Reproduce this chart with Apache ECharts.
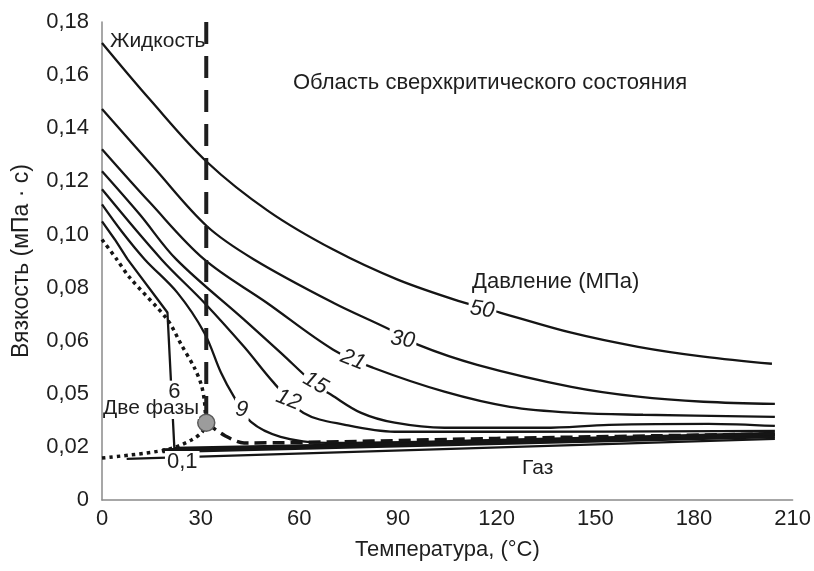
<!DOCTYPE html>
<html><head><meta charset="utf-8">
<script src="https://cdn.jsdelivr.net/npm/echarts@6/dist/echarts.min.js"></script>
<style>html,body{margin:0;padding:0;background:#fff}#c{width:814px;height:571px}</style>
</head><body><div id="c"></div>
<script>
// Tick labels (original chart prints "0,05" at the 0,04 position)
const yTickLabels = ['0','0,02','0,05','0,06','0,08','0,10','0,12','0,14','0,16','0,18'];
const xTickValues = [0,30,60,90,120,150,180,210];

// Isobars [T °C, viscosity mPa·s]
const p50 = [[0,0.1721],[14.5,0.1509],[32,0.1272],[50.7,0.1087],[70.3,0.0943],[89.9,0.083],[110.1,0.0743],[121,0.0706],[142.7,0.063],[163,0.0577],[182.9,0.054],[203.7,0.0513]];
const p30 = [[0,0.1472],[15.7,0.1253],[32,0.103],[46.2,0.0906],[70.3,0.0743],[87.5,0.0642],[96,0.0585],[114.1,0.0509],[142.7,0.0426],[163,0.0389],[182.9,0.037],[204.6,0.0362]];
const p21 = [[0,0.1321],[14.5,0.1121],[31.1,0.0906],[50.1,0.0743],[70.3,0.0566],[82.4,0.0498],[104.1,0.0408],[124,0.0351],[144.2,0.0328],[164.5,0.0321],[204.6,0.0313]];
const p15 = [[0,0.1238],[11.5,0.1075],[22.6,0.0906],[43.2,0.0679],[54.3,0.0555],[64.9,0.0434],[69.7,0.0396],[78.8,0.0328],[89,0.0291],[104.1,0.0272],[134.3,0.0272],[154.2,0.0283],[184.4,0.0287],[204.6,0.0279]];
const p12 = [[0,0.117],[18.1,0.0906],[31.1,0.0743],[43.2,0.0577],[52.2,0.0442],[61.3,0.0328],[73.9,0.0283],[89,0.0257],[120,0.0257],[204.6,0.026]];
const p9  = [[0,0.1113],[6,0.1011],[13,0.0906],[22.9,0.0781],[31.1,0.063],[36.2,0.0479],[40.1,0.0389],[45.3,0.0294],[54.3,0.0238],[68.2,0.0215],[120,0.0226],[204.6,0.0253]];
const p6  = [[0,0.1049],[3.9,0.0981],[7.8,0.0906],[19.9,0.0706],[22,0.0196],[100,0.0215],[204.6,0.0245]];
const gasBand = [[18.4,0.0185],[204.6,0.0242]];
const p01 = [[7.5,0.0155],[204.6,0.023]];
const criticalIsobar = [[31.7,0.0291],[37.4,0.0242],[43.2,0.0215],[120,0.0232],[204.6,0.0249]];
const criticalIsotherm = [[31.7,0.18],[31.7,0.0291]];
const liquidSat = [[0,0.0981],[4.5,0.0906],[8.4,0.0838],[19.9,0.0679],[24.1,0.0585],[28.1,0.0498],[30.2,0.0434],[31.1,0.0377],[31.4,0.0332],[31.7,0.0291]];
const vaporSat = [[0,0.0158],[19.6,0.0189],[27.2,0.0226],[30.5,0.0257],[31.7,0.0291]];
const criticalPoint = [[31.7,0.0291]];

// Pressure labels on curves [T, V, text]
const curveLabels = [[115.6,0.0717,'50'],[91.4,0.0604,'30'],[76.3,0.0528,'21'],[64.9,0.0440,'15'],[56.7,0.0377,'12'],[42.5,0.034,'9'],[22,0.0408,'6'],[24.4,0.0143,'0,1']];
const labelRotate = {'50':-8,'30':-8,'21':-22,'15':-30,'12':-22,'9':-8,'6':0,'0,1':0};
const labelItalic = {'50':true,'30':true,'21':true,'15':true,'12':true,'9':true,'6':false,'0,1':false};

const FONT = '"Liberation Sans", Arial, sans-serif';
const INK = '#151515';
const TXT = '#1e1e1e';
const chart = echarts.init(document.getElementById('c'), null, {renderer:'canvas'});

function line(data, opts) {
  return Object.assign({
    type:'line', data, symbol:'none', smooth:0.35, silent:true,
    lineStyle:{color:INK, width:2.3}, z:3
  }, opts || {});
}

chart.setOption({
  animation:false,
  backgroundColor:'#fff',
  grid:{left:102, right:16, top:22, bottom:71},
  xAxis:{
    type:'value', min:0, max:210, interval:30,
    name:'Температура, (°C)', nameLocation:'middle', nameGap:39,
    nameTextStyle:{fontFamily:FONT, fontSize:22, color:TXT},
    axisLine:{show:true, lineStyle:{color:'#8a8a8a', width:1.5}},
    axisTick:{show:false}, splitLine:{show:false},
    axisLabel:{fontFamily:FONT, fontSize:22, color:TXT, margin:8,
      formatter:v => xTickValues.includes(v) ? String(v) : ''}
  },
  yAxis:{
    type:'value', min:0, max:0.18, interval:0.02,
    name:'Вязкость (мПа · с)', nameLocation:'middle', nameGap:69,
    nameTextStyle:{fontFamily:FONT, fontSize:23, color:TXT},
    axisLine:{show:true, lineStyle:{color:'#8a8a8a', width:1.5}},
    axisTick:{show:false}, splitLine:{show:false},
    axisLabel:{fontFamily:FONT, fontSize:22, color:TXT, margin:13,
      formatter:v => yTickLabels[Math.round(v/0.02)]}
  },
  graphic:[
    {type:'text', left:110, top:31, style:{text:'Жидкость', font:'21px '+FONT, fill:TXT}, z:10},
    {type:'text', left:293, top:72, style:{text:'Область сверхкритического состояния', font:'22px '+FONT, fill:TXT}, z:10},
    {type:'text', left:472, top:271, style:{text:'Давление (МПа)', font:'22px '+FONT, fill:TXT}, z:10},
    {type:'text', left:103, top:398, style:{text:'Две фазы', font:'21px '+FONT, fill:TXT, backgroundColor:'#fff'}, z:10},
    {type:'text', left:522, top:458, style:{text:'Газ', font:'21px '+FONT, fill:TXT}, z:10}
  ],
  series:[
    line(p50), line(p30), line(p21), line(p15), line(p12), line(p9),
    line(p6, {smooth:false}),
    line(gasBand, {smooth:false, lineStyle:{color:INK, width:5}}),
    line(p01, {smooth:false, lineStyle:{color:INK, width:2.3}}),
    line(criticalIsobar, {smooth:0.3, lineStyle:{color:INK, width:3.5, type:[12,6], cap:'butt'}, z:4}),
    line(criticalIsotherm, {smooth:false, lineStyle:{color:'#1e1e1e', width:4, type:[22,12], cap:'butt'}, z:4}),
    line(liquidSat, {smooth:0.3, lineStyle:{color:INK, width:3.5, type:[3.5,4], cap:'butt'}}),
    line(vaporSat, {smooth:0.3, lineStyle:{color:INK, width:3.5, type:[3.5,4], cap:'butt'}}),
    {type:'scatter', data:criticalPoint, symbol:'circle', symbolSize:17, silent:true, z:6,
      itemStyle:{color:'#9c9c9c', borderColor:'#5a5a5a', borderWidth:1.5, opacity:1}},
    {type:'scatter', silent:true, z:8, symbolSize:0, itemStyle:{opacity:1},
      data:curveLabels.map(d => ({value:[d[0],d[1]], name:d[2],
        label:{rotate:labelRotate[d[2]], fontStyle:labelItalic[d[2]]?'italic':'normal'}})),
      label:{show:true, position:'inside', formatter:p => p.name, opacity:1,
        fontFamily:FONT, fontSize:22, color:TXT, backgroundColor:'#fff', padding:[0,2]}}
  ]
});
</script></body></html>
